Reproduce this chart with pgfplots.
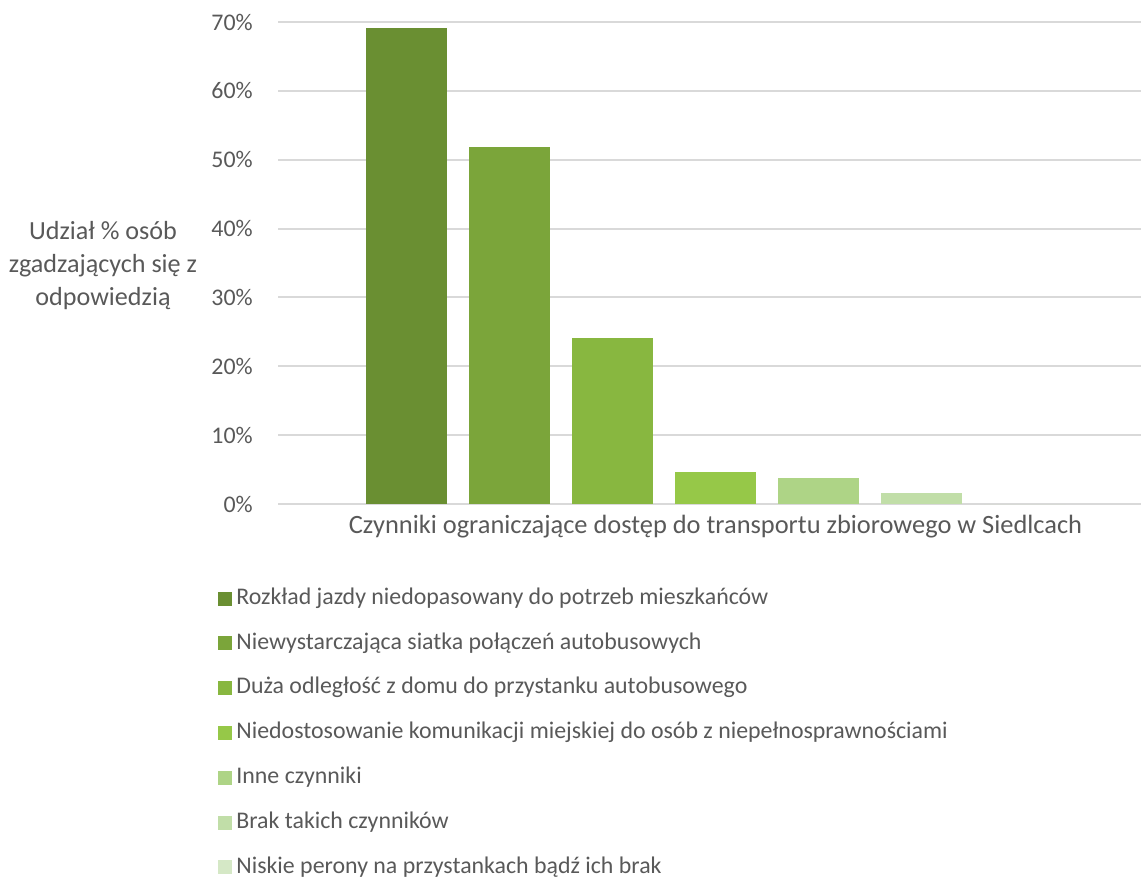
\documentclass[border=0pt]{standalone}
\usepackage{pgfplots}
\pgfplotsset{compat=1.18}
\usepackage{fontspec}
\setmainfont{Carlito}
\definecolor{txt}{HTML}{595959}
\definecolor{grd}{HTML}{D9D9D9}
\definecolor{c1}{HTML}{6A8F32}
\definecolor{c2}{HTML}{7BA53A}
\definecolor{c3}{HTML}{88B740}
\definecolor{c4}{HTML}{96C848}
\definecolor{c5}{HTML}{AED486}
\definecolor{c6}{HTML}{C1DEA8}
\definecolor{c7}{HTML}{D5E8C6}
\begin{document}
\begin{tikzpicture}
\useasboundingbox (0pt,0pt) rectangle (855.75pt,657pt);
\begin{axis}[
  at={(208.5pt,279pt)}, anchor=south west,
  scale only axis, width=647.25pt, height=361.5pt,
  ybar=16.5pt, bar width=60.75pt,
  xmin=-1.014, xmax=0.986, ymin=0, ymax=70,
  ytick={0,10,...,70},
  yticklabel={\pgfmathprintnumber{\tick}\%},
  /pgf/number format/assume math mode=true,
  xtick={0},
  xticklabels={Czynniki ograniczające dostęp do transportu zbiorowego w Siedlcach},
  major tick length=0pt,
  tick style={draw=none},
  ymajorgrids, grid style={grd, line width=1.5pt},
  axis lines*=left,
  y axis line style={draw=none},
  x axis line style={grd, line width=1.5pt, -},
  font=\fontsize{17.9pt}{21pt}\selectfont,
  tick label style={txt},
  yticklabel style={inner sep=0pt, xshift=-18.75pt},
  xticklabel style={inner sep=0pt, yshift=-8pt, font=\fontsize{19.8pt}{23pt}\selectfont},
  ylabel={Udział \% osób\\zgadzających się z\\odpowiedzią},
  ylabel style={rotate=-90, align=center, txt, font=\fontsize{19.6pt}{24.75pt}\selectfont, at={(axis description cs:-0.2028,0.4938)}, anchor=center},
  legend cell align=left,
  legend style={draw=none, fill=none, at={(axis description cs:-0.074,-0.166)}, anchor=north west,
    row sep=16.1pt, txt, font=\fontsize{17.9pt}{21pt}\selectfont,
    nodes={inner sep=0pt, text height=13pt, text depth=4.5pt, inner xsep=3pt}},
  legend image code/.code={\fill[#1] (0pt,-5.25pt) rectangle (10.5pt,5.25pt);},
]
\addplot[fill=c1, draw=none] coordinates {(0,69.1)};
\addplot[fill=c2, draw=none] coordinates {(0,51.8)};
\addplot[fill=c3, draw=none] coordinates {(0,24.1)};
\addplot[fill=c4, draw=none] coordinates {(0,4.65)};
\addplot[fill=c5, draw=none] coordinates {(0,3.8)};
\addplot[fill=c6, draw=none] coordinates {(0,1.6)};
\addplot[fill=c7, draw=none] coordinates {(0,0)};
\legend{Rozkład jazdy niedopasowany do potrzeb mieszkańców,
Niewystarczająca siatka połączeń autobusowych,
Duża odległość z domu do przystanku autobusowego,
Niedostosowanie komunikacji miejskiej do osób z niepełnosprawnościami,
Inne czynniki,
Brak takich czynników,
Niskie perony na przystankach bądź ich brak}
\end{axis}
\end{tikzpicture}
\end{document}
